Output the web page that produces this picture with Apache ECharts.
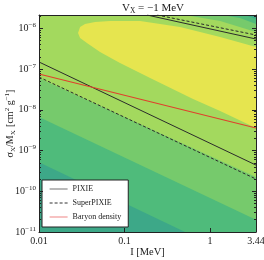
<!DOCTYPE html>
<html><head><meta charset="utf-8">
<script src="https://cdn.jsdelivr.net/npm/echarts@6/dist/echarts.min.js"></script>
<style>html,body{margin:0;padding:0;background:#fff}#c{width:264px;height:260px}</style>
</head><body><div id="c"></div>
<script>
// ---- axes ----
const xRange = [0.01, 3.44];
const yRange = [1e-11, 2.14e-6];
const xTicks = [0.01, 0.1, 1, 3.44];
const xTickLabels = ['0.01', '0.1', '1', '3.44'];
const yTicks = [1e-11, 1e-10, 1e-9, 1e-8, 1e-7, 1e-6];
const yTickExps = ['−11', '−10', '−9', '−8', '−7', '−6'];

// ---- filled contour bands (I [MeV], sigma_X/M_X [cm^2 g^-1]) ----
const bandColors = ['#3da888', '#4fbb7b', '#76ca6c', '#a3d95e', '#e6e54f'];
const band0 = [[0.01, 1e-11], [3.44, 1e-11], [3.44, 2.14e-6], [0.01, 2.14e-6]];
const band1 = [[0.01, 5.2e-10], [0.51, 1e-11], [3.44, 1e-11], [3.44, 1.71e-6], [2.56, 2.14e-6], [0.01, 2.14e-6]];
const band2 = [[0.01, 6.7e-9], [3.44, 2.0e-11], [3.44, 1.29e-6], [2.24, 1.81e-6], [1.38, 2.14e-6], [0.01, 2.14e-6]];
const band3 = [[0.01, 6.1e-8], [3.44, 2.24e-10], [3.44, 8.2e-7], [1.31, 1.53e-6], [0.51, 2.14e-6], [0.01, 2.14e-6]];
const band4 = [[0.0286, 7.7e-7], [0.0302, 1.09e-6], [0.0345, 1.29e-6], [0.0452, 1.45e-6], [0.0676, 1.53e-6],
  [0.152, 1.53e-6], [0.446, 1.09e-6], [1.31, 6.2e-7], [3.44, 3.5e-7],
  [3.44, 3.6e-9], [1.31, 9.4e-9], [0.632, 1.85e-8], [0.199, 6.1e-8], [0.0885, 1.42e-7],
  [0.0517, 2.65e-7], [0.0374, 4.2e-7], [0.0302, 5.85e-7]];
const bandPolys = [band0, band1, band2, band3, band4];

// ---- lines ----
const pixieLow = [[0.01, 1.5e-7], [3.44, 4.4e-10]];
const pixieHigh = [[0.183, 2.14e-6], [3.44, 5.5e-7]];
const superLow = [[0.01, 6.4e-8], [3.44, 2.0e-10]];
const superHigh = [[0.24, 2.14e-6], [3.44, 6.9e-7]];
const baryon = [[0.01, 7.6e-8], [3.44, 3.6e-9]];

const L = Math.log10;
const lg = arr => arr.map(p => [L(p[0]), L(p[1])]);
const FONT = 'Liberation Serif';
const INK = '#222';

const yMinor = [];
for (let n = -11; n <= -6; n++) for (let k = 2; k <= 9; k++) {
  const v = k * Math.pow(10, n);
  if (v > yRange[0] && v < yRange[1]) yMinor.push(L(v));
}
const yMajor = yTicks.map(L);

function yAxisDef(pos, minor, labels) {
  return {
    type: 'value', position: pos, min: L(yRange[0]), max: L(yRange[1]), z: 10,
    axisLine: { show: !minor, onZero: false, lineStyle: { color: INK, width: 1 } },
    axisTick: { show: true, inside: true, length: minor ? 2 : 4, customValues: minor ? yMinor : yMajor,
      lineStyle: { color: INK, width: 1 } },
    axisLabel: labels ? {
      show: true, customValues: yMajor, margin: 3,
      formatter: v => { const i = yMajor.findIndex(t => Math.abs(t - v) < 1e-6); return '{b|10}{s|' + yTickExps[i] + '}'; },
      rich: { b: { fontSize: 10, fontFamily: FONT, color: INK }, s: { fontSize: 7, fontFamily: FONT, color: INK, padding: [0, 0, 6, 0] } }
    } : { show: false },
    splitLine: { show: false }
  };
}

const yAxes = [yAxisDef('left', false, true), yAxisDef('left', true, false), yAxisDef('right', false, false), yAxisDef('right', true, false)];
yAxes[0].name = '{b|σ}{d|X}{b|/M}{d|X} {b|[cm}{u|2}{b| g}{u|−1}{b|]}';
yAxes[0].nameLocation = 'middle';
yAxes[0].nameRotate = 90;
yAxes[0].nameGap = 22;
yAxes[0].nameMoveOverlap = false;
yAxes[0].nameTextStyle = { rich: {
  b: { fontSize: 10, fontFamily: FONT, color: INK },
  d: { fontSize: 7, fontFamily: FONT, color: INK, padding: [5, 0, 0, 0] },
  u: { fontSize: 7, fontFamily: FONT, color: INK, padding: [0, 0, 6, 0] } } };

const xAxes = [{
  type: 'value', position: 'bottom', min: L(xRange[0]), max: L(xRange[1]), z: 10,
  axisLine: { show: true, onZero: false, lineStyle: { color: INK, width: 1 } },
  axisTick: { show: true, inside: true, length: 4, customValues: xTicks.map(L), lineStyle: { color: INK } },
  axisLabel: { show: true, customValues: xTicks.map(L), margin: 4, fontSize: 10, fontFamily: FONT, color: INK,
    formatter: v => { const i = xTicks.findIndex(t => Math.abs(L(t) - v) < 1e-6); return xTickLabels[i]; } },
  splitLine: { show: false },
  name: 'I [MeV]', nameLocation: 'middle', nameGap: 15, nameMoveOverlap: false,
  nameTextStyle: { fontSize: 10.5, fontFamily: FONT, color: INK }
}, {
  type: 'value', position: 'top', min: L(xRange[0]), max: L(xRange[1]), z: 10,
  axisLine: { show: true, onZero: false, lineStyle: { color: INK, width: 1 } },
  axisTick: { show: false }, axisLabel: { show: false }, splitLine: { show: false }
}];

const lineColor = '#2b2b2b';
const redColor = '#e0402c';
const hide = { opacity: 0, color: 'rgba(0,0,0,0)', borderWidth: 0 };
const option = {
  animation: false,
  title: { text: 'V{s|X} = −1 MeV', left: 148, top: -3, textAlign: 'center',
    textStyle: { fontSize: 11, fontFamily: FONT, color: INK, fontWeight: 'normal',
      rich: { s: { fontSize: 7.5, fontFamily: FONT, color: INK, padding: [5, 0, 0, 0] } } } },
  grid: { left: 39, right: 8, top: 15, bottom: 28, containLabel: false, outerBoundsMode: 'none' },
  xAxis: xAxes,
  yAxis: yAxes,
  legend: {
    orient: 'vertical', left: 42, top: 180, itemWidth: 18, itemHeight: 9, itemGap: 6,
    padding: [5, 7, 6, 7], backgroundColor: '#fff', borderColor: INK, borderWidth: 1, borderRadius: 0,
    textStyle: { fontSize: 8, fontFamily: FONT, color: INK },
    data: [
      { name: 'PIXIE', itemStyle: hide, lineStyle: { color: '#8a8a8a', width: 1.2 } },
      { name: 'SuperPIXIE', itemStyle: hide, lineStyle: { color: '#333', width: 1 } },
      { name: 'Baryon density', itemStyle: hide, lineStyle: { color: '#f29a9a', width: 1.2 } }
    ]
  },
  series: [
    {
      type: 'custom', coordinateSystem: 'cartesian2d', silent: true, z: 1,
      data: bandPolys.map(p => [L(p[0][0]), L(p[0][1])]),
      renderItem: (params, api) => {
        const poly = bandPolys[params.dataIndex];
        return { type: 'polygon', shape: { points: poly.map(p => api.coord([L(p[0]), L(p[1])])) },
          style: { fill: bandColors[params.dataIndex] } };
      }
    },
    { name: 'PIXIE', type: 'line', data: lg(pixieLow), symbol: 'none', z: 5, lineStyle: { color: lineColor, width: 1 }, itemStyle: { color: lineColor } },
    { name: 'PIXIE', type: 'line', data: lg(pixieHigh), symbol: 'none', z: 5, lineStyle: { color: lineColor, width: 1 }, itemStyle: { color: lineColor } },
    { name: 'SuperPIXIE', type: 'line', data: lg(superLow), symbol: 'none', z: 5, lineStyle: { color: lineColor, width: 1, type: [3, 2] }, itemStyle: { color: lineColor } },
    { name: 'SuperPIXIE', type: 'line', data: lg(superHigh), symbol: 'none', z: 5, lineStyle: { color: lineColor, width: 1, type: [3, 2] }, itemStyle: { color: lineColor } },
    { name: 'Baryon density', type: 'line', data: lg(baryon), symbol: 'none', z: 5, lineStyle: { color: redColor, width: 1.1 }, itemStyle: { color: redColor } }
  ]
};
const chart = echarts.init(document.getElementById('c'), null, { renderer: 'canvas' });
chart.setOption(option);
</script></body></html>
